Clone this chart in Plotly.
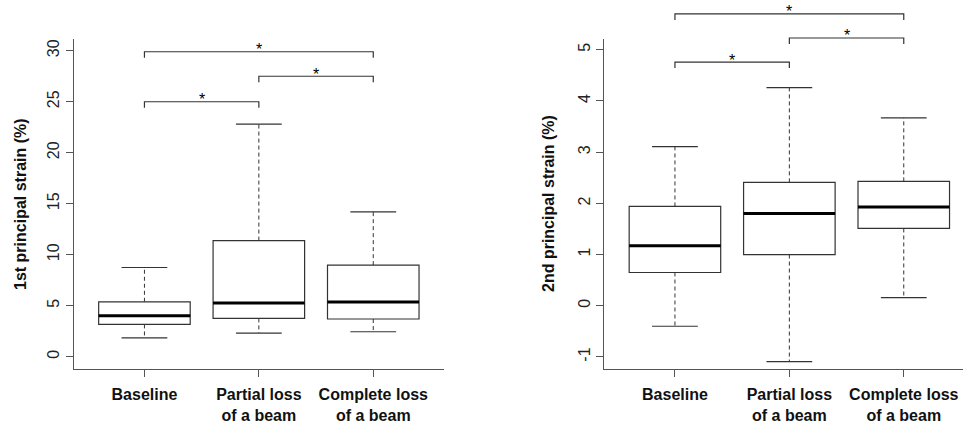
import plotly.graph_objects as go

# ---------------- data ----------------
categories = ["Baseline", "Partial loss of a beam", "Complete loss of a beam"]
tick_labels = ["Baseline", "Partial loss<br>of a beam", "Complete loss<br>of a beam"]
positions = [1, 2, 3]

strain1_lower = [1.86, 2.32, 2.45]
strain1_q1 = [3.17, 3.76, 3.70]
strain1_median = [4.02, 5.26, 5.36]
strain1_q3 = [5.39, 11.39, 8.98]
strain1_upper = [8.75, 22.8, 14.2]

strain2_lower = [-0.40, -1.09, 0.16]
strain2_q1 = [0.65, 1.00, 1.51]
strain2_median = [1.17, 1.80, 1.93]
strain2_q3 = [1.94, 2.41, 2.43]
strain2_upper = [3.11, 4.26, 3.67]

bracket_pairs = [(1, 2), (2, 3), (1, 3)]
strain1_bracket_y = [25.0, 27.5, 29.9]
strain2_bracket_y = [4.76, 5.23, 5.70]
bracket_labels = ["*", "*", "*"]

strain1_ticks = [0, 5, 10, 15, 20, 25, 30]
strain2_ticks = [-1, 0, 1, 2, 3, 4, 5]

# ---------------- layout geometry ----------------
W, H = 963, 423
FONT = "Liberation Sans, Arial, sans-serif"
AXC = "#555555"
BOXC = "#333333"
TXT = "#222222"
TOP_PX, BOT_PX = 39, 369


def fy(px):
    return 1 - px / H


ydom = [fy(BOT_PX), fy(TOP_PX)]
ydom_ext = [fy(BOT_PX), 1.0]

x_px_per_unit = (444.2 - 73.5) / 3.24
left_xdom_px = [73.5, 444.2]
right_xdom_px = [604.0, 963.0]
left_xrange = [0.38, 3.62]
right_xrange = [0.38, 0.38 + (right_xdom_px[1] - right_xdom_px[0]) / x_px_per_unit]

left_yrange = [-1.2, 31.15]
right_yrange = [-1.235, 5.21]

fig = go.Figure()

panels = [
    dict(xa="x", ya="y", xb="x3", yb="y3",
         lower=strain1_lower, q1=strain1_q1, med=strain1_median, q3=strain1_q3, upper=strain1_upper,
         by=strain1_bracket_y, yrange=left_yrange, xrange=left_xrange, xdom=left_xdom_px,
         ticks=strain1_ticks, title="1st principal strain (%)", title_x=20),
    dict(xa="x2", ya="y2", xb="x4", yb="y4",
         lower=strain2_lower, q1=strain2_q1, med=strain2_median, q3=strain2_q3, upper=strain2_upper,
         by=strain2_bracket_y, yrange=right_yrange, xrange=right_xrange, xdom=right_xdom_px,
         ticks=strain2_ticks, title="2nd principal strain (%)", title_x=548),
]

box_w = 0.8
cap_half = box_w / 4

annotations = []
for i, p in enumerate(panels):
    # boxes
    for j, pos in enumerate(positions):
        fig.add_trace(go.Box(
            x=[pos], q1=[p["q1"][j]], median=[p["med"][j]], q3=[p["q3"][j]],
            lowerfence=[p["q1"][j]], upperfence=[p["q3"][j]],
            width=box_w, fillcolor="white", line=dict(color=BOXC, width=1.2),
            boxpoints=False, whiskerwidth=0, xaxis=p["xa"], yaxis=p["ya"],
            showlegend=False, hoverinfo="skip", name=categories[j]))
    # whiskers (dashed), caps (solid), medians (thick)
    for j, pos in enumerate(positions):
        fig.add_trace(go.Scatter(
            x=[pos, pos, None, pos, pos], y=[p["q3"][j], p["upper"][j], None, p["q1"][j], p["lower"][j]],
            mode="lines", line=dict(color=BOXC, width=1, dash="4px,3px"),
            xaxis=p["xa"], yaxis=p["ya"], showlegend=False, hoverinfo="skip"))
        fig.add_trace(go.Scatter(
            x=[pos - cap_half, pos + cap_half, None, pos - cap_half, pos + cap_half],
            y=[p["upper"][j], p["upper"][j], None, p["lower"][j], p["lower"][j]],
            mode="lines", line=dict(color=BOXC, width=1.2),
            xaxis=p["xa"], yaxis=p["ya"], showlegend=False, hoverinfo="skip"))
        fig.add_trace(go.Scatter(
            x=[pos - box_w / 2, pos + box_w / 2], y=[p["med"][j], p["med"][j]],
            mode="lines", line=dict(color="#000000", width=3),
            xaxis=p["xa"], yaxis=p["ya"], showlegend=False, hoverinfo="skip"))

    # bracket subplot (same x scale, taller y domain, same y scale)
    yr = p["yrange"]
    span = (yr[1] - yr[0]) * (ydom_ext[1] - ydom_ext[0]) / (ydom[1] - ydom[0])
    yrange_ext = [yr[0], yr[0] + span]
    px_per_y = (BOT_PX - TOP_PX) / (yr[1] - yr[0])
    drop = 6 / px_per_y
    for k, (a, b) in enumerate(bracket_pairs):
        yb = p["by"][k]
        fig.add_trace(go.Scatter(
            x=[a, a, b, b], y=[yb - drop, yb, yb, yb - drop],
            mode="lines", line=dict(color="#333333", width=1.2),
            xaxis=p["xb"], yaxis=p["yb"], showlegend=False, hoverinfo="skip"))
        annotations.append(dict(
            x=(a + b) / 2, y=yb, xref=p["xb"], yref=p["yb"], text=bracket_labels[k],
            showarrow=False, xanchor="center", yanchor="middle", yshift=2,
            font=dict(family=FONT, size=16, color="#000000")))

    xsuf = "" if i == 0 else "2"
    bsuf = "3" if i == 0 else "4"
    xdom = [p["xdom"][0] / W, min(1.0, p["xdom"][1] / W)]
    fig.layout["xaxis" + xsuf] = dict(
        domain=xdom, range=p["xrange"], anchor="y" + xsuf,
        tickvals=positions, ticktext=["<b>%s</b>" % t for t in tick_labels],
        tickfont=dict(family=FONT, size=16, color="#111111"),
        showline=True, linecolor=AXC, linewidth=1, mirror=False,
        ticks="outside", ticklen=7, tickcolor=AXC, tickwidth=1,
        showgrid=False, zeroline=False, fixedrange=True, ticklabelstandoff=4)
    fig.layout["yaxis" + xsuf] = dict(
        domain=ydom, range=yr, anchor="x" + xsuf,
        tickvals=p["ticks"], ticktext=[str(v) for v in p["ticks"]], tickangle=-90,
        tickfont=dict(family=FONT, size=16, color=TXT),
        showline=True, linecolor=AXC, linewidth=1,
        ticks="outside", ticklen=7, tickcolor=AXC, tickwidth=1,
        showgrid=False, zeroline=False, fixedrange=True, ticklabelstandoff=0)
    fig.layout["xaxis" + bsuf] = dict(domain=xdom, range=p["xrange"], anchor="y" + bsuf, visible=False)
    fig.layout["yaxis" + bsuf] = dict(domain=ydom_ext, range=yrange_ext, anchor="x" + bsuf, visible=False)

    annotations.append(dict(
        x=p["title_x"] / W, y=fy((TOP_PX + BOT_PX) / 2), xref="paper", yref="paper",
        text="<b>%s</b>" % p["title"], textangle=-90, showarrow=False,
        xanchor="center", yanchor="middle",
        font=dict(family=FONT, size=16, color="#111111")))

fig.update_layout(
    width=W, height=H, margin=dict(l=0, r=0, t=0, b=0),
    paper_bgcolor="white", plot_bgcolor="rgba(0,0,0,0)",
    annotations=annotations, showlegend=False)

fig.write_html("out.html", config={"displayModeBar": False},
               post_script="document.body.style.margin='0px';")
